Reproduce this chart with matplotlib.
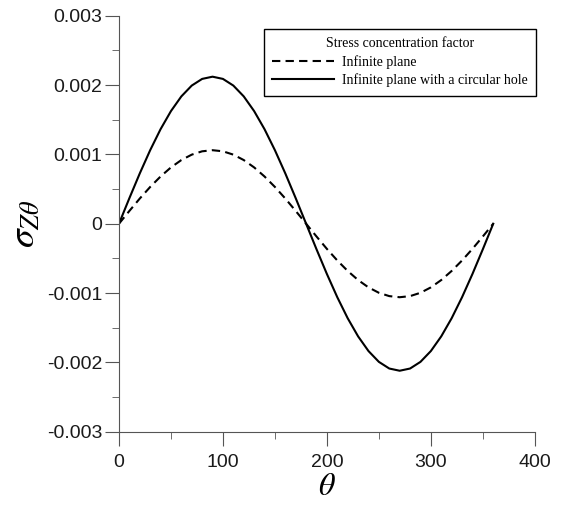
import numpy as np
import matplotlib
matplotlib.use('Agg')
import matplotlib.pyplot as plt
from matplotlib.ticker import MultipleLocator

# angle in degrees
theta = [0, 10, 20, 30, 40, 50, 60, 70, 80, 90, 100, 110, 120, 130, 140, 150, 160, 170, 180,
         190, 200, 210, 220, 230, 240, 250, 260, 270, 280, 290, 300, 310, 320, 330, 340, 350, 360]

# infinite plane (dashed)
sz_plane = [0.0, 0.000184, 0.000363, 0.00053, 0.000681, 0.000812, 0.000918, 0.000996, 0.001044, 0.00106,
            0.001044, 0.000996, 0.000918, 0.000812, 0.000681, 0.00053, 0.000363, 0.000184, 0.0,
            -0.000184, -0.000363, -0.00053, -0.000681, -0.000812, -0.000918, -0.000996, -0.001044, -0.00106,
            -0.001044, -0.000996, -0.000918, -0.000812, -0.000681, -0.00053, -0.000363, -0.000184, 0.0]

# infinite plane with a circular hole (solid)
sz_hole = [0.0, 0.000368, 0.000725, 0.00106, 0.001363, 0.001624, 0.001836, 0.001992, 0.002088, 0.00212,
           0.002088, 0.001992, 0.001836, 0.001624, 0.001363, 0.00106, 0.000725, 0.000368, 0.0,
           -0.000368, -0.000725, -0.00106, -0.001363, -0.001624, -0.001836, -0.001992, -0.002088, -0.00212,
           -0.002088, -0.001992, -0.001836, -0.001624, -0.001363, -0.00106, -0.000725, -0.000368, 0.0]

yticks = [-0.003, -0.002, -0.001, 0, 0.001, 0.002, 0.003]
ytick_labels = ['-0.003', '-0.002', '-0.001', '0', '0.001', '0.002', '0.003']

plt.rcParams['mathtext.fontset'] = 'stix'

fig = plt.figure(figsize=(5.72, 5.05), dpi=100)
ax = fig.add_axes([0.208, 0.145, 0.727, 0.824])

ax.plot(theta, sz_plane, color='black', lw=1.5, ls=(0, (4, 2.5)), label='Infinite plane')
ax.plot(theta, sz_hole, color='black', lw=1.5, label='Infinite plane with a circular hole')

ax.set_xlim(0, 400)
ax.set_ylim(-0.003, 0.003)
ax.xaxis.set_major_locator(MultipleLocator(100))
ax.xaxis.set_minor_locator(MultipleLocator(50))
ax.set_yticks(yticks)
ax.set_yticklabels(ytick_labels)
ax.yaxis.set_minor_locator(MultipleLocator(0.0005))

for s in ['top', 'right']:
    ax.spines[s].set_visible(False)
for s in ['left', 'bottom']:
    ax.spines[s].set_color('#555555')
ax.tick_params(which='major', length=10, color='#555555', labelsize=14, direction='out')
ax.tick_params(axis='x', which='major', pad=6)
ax.tick_params(axis='y', which='major', pad=2)
ax.tick_params(which='minor', length=5, color='#555555', direction='out')
for lab in ax.get_xticklabels() + ax.get_yticklabels():
    lab.set_family('Liberation Sans')
    lab.set_color('#1a1a1a')

ax.set_xlabel(r'$\theta$', fontsize=23, labelpad=0)
ax.set_ylabel(r'$\sigma_{Z\theta}$', fontsize=27, rotation=90, labelpad=3)

leg = ax.legend(title='Stress concentration factor', loc='upper left', bbox_to_anchor=(0.349, 0.969),
                prop={'family': 'Liberation Serif', 'size': 10}, handlelength=4.4,
                fancybox=False, edgecolor='black', framealpha=1, borderpad=0.6,
                labelspacing=0.35, handletextpad=0.6, borderaxespad=0)
leg.get_title().set_family('Liberation Serif')
leg.get_title().set_fontsize(10)
leg.get_frame().set_linewidth(1.0)

fig.savefig('out.png', dpi=100)
